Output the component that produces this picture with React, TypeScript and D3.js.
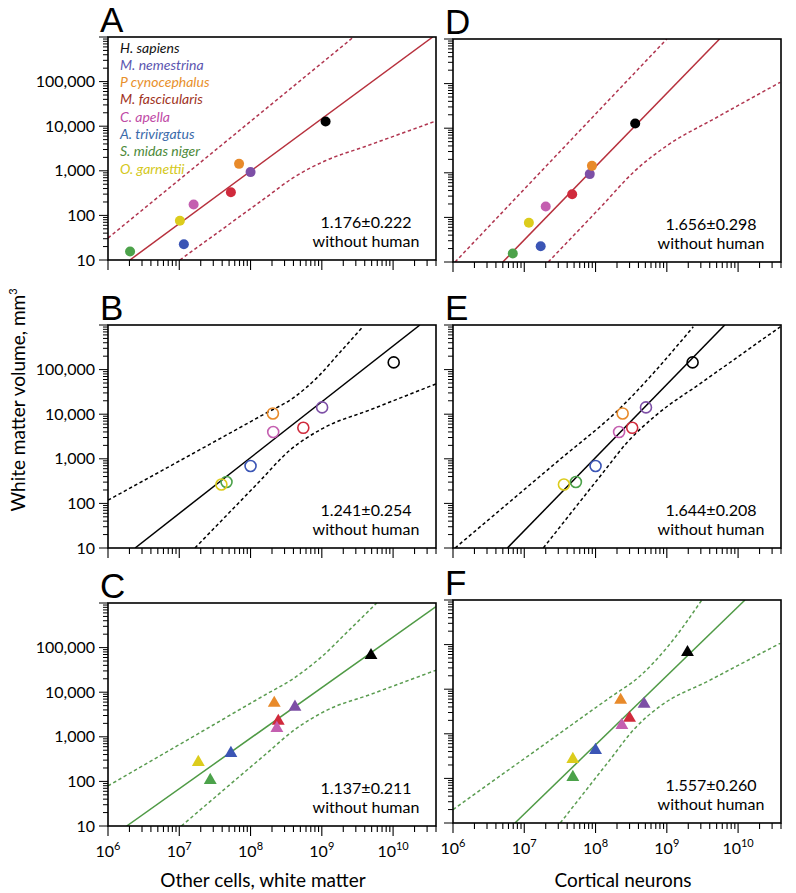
import React from "react";
import * as d3 from "d3";

// ---------- data ----------
const species = [
  "H. sapiens",
  "M. nemestrina",
  "P cynocephalus",
  "M. fascicularis",
  "C. apella",
  "A. trivirgatus",
  "S. midas niger",
  "O. garnettii",
];
const markerColors = ["#000000", "#7d4fa6", "#e88a2a", "#d02a3c", "#c45fb0", "#3b55b5", "#4ca24a", "#dccc1c"];
const legendColors = ["#111111", "#5c56b0", "#e8902c", "#a0321c", "#c04aa6", "#3a6aaa", "#4d8a3a", "#d4c820"];

// white matter volume (mm3) per species, one list per row
const volumeRow1 = [12700, 935, 1430, 330, 175, 22.5, 15.5, 76];
const volumeRow2 = [145000, 14200, 10400, 4950, 3980, 690, 302, 266];
const volumeRow3 = [67000, 4650, 5700, 2250, 1560, 428, 106, 269];

// x values per panel
const otherCellsA = [1.13e9, 1.0e8, 6.9e7, 5.3e7, 1.59e7, 1.16e7, 2.04e6, 1.02e7];
const otherCellsB = [1.02e10, 1.01e9, 2.06e8, 5.5e8, 2.08e8, 1.0e8, 4.6e7, 3.9e7];
const otherCellsC = [4.9e9, 4.2e8, 2.15e8, 2.45e8, 2.34e8, 5.3e7, 2.72e7, 1.85e7];
const neuronsD = [3.6e8, 8.3e7, 8.9e7, 4.7e7, 2.0e7, 1.7e7, 6.9e6, 1.16e7];
const neuronsE = [2.3e9, 5.1e8, 2.4e8, 3.27e8, 2.14e8, 1.0e8, 5.3e7, 3.6e7];
const neuronsF = [1.95e9, 4.8e8, 2.25e8, 3.0e8, 2.34e8, 1.0e8, 4.8e7, 4.8e7];

// regression lines
const fitA: [number, number][] = [[2.03e6, 10], [3.6e10, 1e6]];
const fitB: [number, number][] = [[2.4e6, 10], [2.38e10, 1e6]];
const fitC: [number, number][] = [[1.83e6, 10], [4.0e10, 8.3e5]];
const fitD: [number, number][] = [[5.0e6, 10], [5.5e9, 1e6]];
const fitE: [number, number][] = [[5.8e6, 10], [6.5e9, 1e6]];
const fitF: [number, number][] = [[7.4e6, 10], [1.25e10, 1e6]];

// confidence bands
const upperA: [number, number][] = [[1.0e6, 31], [2.75e9, 9.8e5]];
const lowerA: [number, number][] = [[1.02e7, 10], [1.58e8, 240], [3.98e8, 700], [1.12e9, 1680], [3.98e9, 3470], [3.9e10, 12900]];
const upperB: [number, number][] = [[1.0e6, 118], [1.58e8, 10200], [3.98e8, 23200], [8.9e8, 70000], [1.78e9, 2.4e5], [3.8e9, 9.3e5]];
const lowerB: [number, number][] = [[1.66e7, 10], [1.26e8, 282], [3.55e8, 1550], [1.0e9, 4680], [5.0e9, 12900], [4.3e10, 50000]];
const upperC: [number, number][] = [[1.0e6, 79], [1.58e8, 8600], [3.98e8, 20200], [1.0e9, 63000], [2.5e9, 2.6e5], [5.9e9, 1e6]];
const lowerC: [number, number][] = [[1.07e7, 10], [1.58e8, 390], [4.17e8, 1445], [1.12e9, 3800], [5.0e9, 9100], [4.1e10, 31600]];
const upperD: [number, number][] = [[1.07e6, 10], [1.0e9, 1e6]];
const lowerD: [number, number][] = [[2.17e7, 10], [1.26e8, 190], [3.55e8, 1100], [1.0e9, 4040], [5.0e9, 17400], [3.9e10, 1.07e5]];
const upperE: [number, number][] = [[1.07e6, 10], [3.16e7, 966], [1.98e8, 11500], [2.35e9, 9.1e5]];
const lowerE: [number, number][] = [[1.85e7, 10], [1.26e8, 480], [2.82e8, 2400], [7.1e8, 9550], [3.16e9, 52500], [3.9e10, 9.1e5]];
const upperF: [number, number][] = [[1.0e6, 20], [1.58e8, 6450], [4.17e8, 19500], [1.0e9, 85000], [3.1e9, 1e6]];
const lowerF: [number, number][] = [[3.2e7, 10], [1.58e8, 257], [3.55e8, 1320], [7.9e8, 4070], [3.98e9, 15800], [3.9e10, 1.07e5]];

const slopeLabels = ["1.176±0.222", "1.241±0.254", "1.137±0.211", "1.656±0.298", "1.644±0.208", "1.557±0.260"];
const panelLetters = ["A", "B", "C", "D", "E", "F"];
const xTitles = ["Other cells, white matter", "Cortical neurons"];
const yTitle = "White matter volume, mm";
const xDomain = [1e6, 4e10];
const yDomain = [10, 1e6];

// ---------- layout ----------
const FONT = "Lato, 'Open Sans', sans-serif";
const RED = "#b7313d";
const RED_D = "#b0354f";
const GREEN = "#4f9a45";
const GREEN_D = "#5a9c50";

type Pt = [number, number];
interface PanelCfg {
  letter: string;
  xs: number[];
  ys: number[];
  fit: Pt[];
  upper: Pt[];
  lower: Pt[];
  slope: string;
  marker: "dot" | "ring" | "tri";
  lineColor: string;
  bandColor: string;
  left: number;
  right: number;
  top: number;
  bottom: number;
  yLabels: boolean;
  xLabels: boolean;
  legend: boolean;
}

const cols = [[108, 436], [453, 781]];
const rowsL = [[37, 260], [325, 548], [603, 826]];
const rowsR = [[39, 262], [325, 548], [600, 823]];

const panels: PanelCfg[] = [
  { letter: panelLetters[0], xs: otherCellsA, ys: volumeRow1, fit: fitA, upper: upperA, lower: lowerA, slope: slopeLabels[0], marker: "dot", lineColor: RED, bandColor: RED_D, left: cols[0][0], right: cols[0][1], top: rowsL[0][0], bottom: rowsL[0][1], yLabels: true, xLabels: false, legend: true },
  { letter: panelLetters[1], xs: otherCellsB, ys: volumeRow2, fit: fitB, upper: upperB, lower: lowerB, slope: slopeLabels[1], marker: "ring", lineColor: "#000", bandColor: "#000", left: cols[0][0], right: cols[0][1], top: rowsL[1][0], bottom: rowsL[1][1], yLabels: true, xLabels: false, legend: false },
  { letter: panelLetters[2], xs: otherCellsC, ys: volumeRow3, fit: fitC, upper: upperC, lower: lowerC, slope: slopeLabels[2], marker: "tri", lineColor: GREEN, bandColor: GREEN_D, left: cols[0][0], right: cols[0][1], top: rowsL[2][0], bottom: rowsL[2][1], yLabels: true, xLabels: true, legend: false },
  { letter: panelLetters[3], xs: neuronsD, ys: volumeRow1, fit: fitD, upper: upperD, lower: lowerD, slope: slopeLabels[3], marker: "dot", lineColor: RED, bandColor: RED_D, left: cols[1][0], right: cols[1][1], top: rowsR[0][0], bottom: rowsR[0][1], yLabels: false, xLabels: false, legend: false },
  { letter: panelLetters[4], xs: neuronsE, ys: volumeRow2, fit: fitE, upper: upperE, lower: lowerE, slope: slopeLabels[4], marker: "ring", lineColor: "#000", bandColor: "#000", left: cols[1][0], right: cols[1][1], top: rowsR[1][0], bottom: rowsR[1][1], yLabels: false, xLabels: false, legend: false },
  { letter: panelLetters[5], xs: neuronsF, ys: volumeRow3, fit: fitF, upper: upperF, lower: lowerF, slope: slopeLabels[5], marker: "tri", lineColor: GREEN, bandColor: GREEN_D, left: cols[1][0], right: cols[1][1], top: rowsR[2][0], bottom: rowsR[2][1], yLabels: false, xLabels: true, legend: false },
];

function isPow10(v: number) {
  const l = Math.log10(v);
  return Math.abs(l - Math.round(l)) < 1e-6;
}

function Panel({ p, idx }: { p: PanelCfg; idx: number }) {
  const x = d3.scaleLog().domain(xDomain).range([p.left, p.right]);
  const y = d3.scaleLog().domain(yDomain).range([p.bottom, p.top]);
  const straight = d3.line<Pt>().x((d) => x(d[0])).y((d) => y(d[1]));
  const smooth = d3.line<Pt>().x((d) => x(d[0])).y((d) => y(d[1])).curve(d3.curveMonotoneX);
  const clipId = `clip-${p.letter}`;
  const xt = x.ticks();
  const yt = y.ticks();
  const tri = d3.symbol(d3.symbolTriangle, 72)() as string;
  const cx = (p.left + p.right) / 2;

  return (
    <g>
      <defs>
        <clipPath id={clipId}>
          <rect x={p.left} y={p.top} width={p.right - p.left} height={p.bottom - p.top} />
        </clipPath>
      </defs>
      <text x={p.left - 8} y={p.top - 5} fontFamily="'Liberation Sans', Arial, sans-serif" fontSize={35} fill="#000">
        {p.letter}
      </text>

      <g clipPath={`url(#${clipId})`}>
        <path d={smooth(p.upper) || ""} fill="none" stroke={p.bandColor} strokeWidth={1.5} strokeDasharray="3.4,2.6" />
        <path d={smooth(p.lower) || ""} fill="none" stroke={p.bandColor} strokeWidth={1.5} strokeDasharray="3.4,2.6" />
        <path d={straight(p.fit) || ""} fill="none" stroke={p.lineColor} strokeWidth={1.5} />
      </g>

      {/* frame */}
      <rect x={p.left} y={p.top} width={p.right - p.left} height={p.bottom - p.top} fill="none" stroke="#000" strokeWidth={1.6} />

      {/* y ticks */}
      {yt.map((v, i) => {
        const major = isPow10(v);
        return <line key={"y" + i} x1={p.left} x2={p.left - (major ? 9 : 5)} y1={y(v)} y2={y(v)} stroke="#000" strokeWidth={1} />;
      })}
      {p.yLabels &&
        yt.filter((v) => isPow10(v) && v < 1e6).map((v, i) => (
          <text key={"yl" + i} x={p.left - 13} y={y(v) + 5.5} textAnchor="end" fontFamily={FONT} fontSize={16} fill="#000">
            {d3.format(",")(v)}
          </text>
        ))}

      {/* x ticks */}
      {xt.map((v, i) => {
        const major = isPow10(v);
        return <line key={"x" + i} x1={x(v)} x2={x(v)} y1={p.bottom} y2={p.bottom + (major ? 10 : 6)} stroke="#000" strokeWidth={1.1} />;
      })}
      {p.xLabels &&
        xt.filter((v) => isPow10(v)).map((v, i) => (
          <text key={"xl" + i} x={x(v)} y={p.bottom + 31} textAnchor="middle" fontFamily={FONT} fontSize={16} fill="#000">
            10
            <tspan dy={-7} fontSize={11}>
              {Math.round(Math.log10(v))}
            </tspan>
          </text>
        ))}

      {/* markers */}
      {p.xs.map((xv, i) => {
        const px = x(xv);
        const py = y(p.ys[i]);
        const c = markerColors[i];
        if (p.marker === "dot") return <circle key={"m" + i} cx={px} cy={py} r={5} fill={c} />;
        if (p.marker === "ring") return <circle key={"m" + i} cx={px} cy={py} r={5.5} fill="none" stroke={c} strokeWidth={1.6} />;
        return <path key={"m" + i} d={tri} transform={`translate(${px},${py})`} fill={c} />;
      })}

      {/* slope annotation */}
      <text x={p.right - 70} y={p.bottom - 32} textAnchor="middle" fontFamily={FONT} fontSize={16} fill="#000">
        {p.slope}
      </text>
      <text x={p.right - 70} y={p.bottom - 13} textAnchor="middle" fontFamily={FONT} fontSize={16} fill="#000">
        without human
      </text>

      {p.legend &&
        species.map((s, i) => (
          <text key={"lg" + i} x={p.left + 12} y={p.top + 15.5 + i * 17.3} fontFamily={FONT} fontStyle="italic" fontSize={14} fill={legendColors[i]}>
            {s}
          </text>
        ))}

      {p.xLabels && (
        <text x={cx + (idx < 3 ? -9 : 6)} y={887} textAnchor="middle" fontFamily={FONT} fontSize={19} fill="#000">
          {xTitles[idx < 3 ? 0 : 1]}
        </text>
      )}
    </g>
  );
}

export default function App() {
  return (
    <svg width={796} height={893} style={{ position: "absolute", left: 0, top: 0, display: "block", background: "#fff" }}>
      <rect x={0} y={0} width={796} height={893} fill="#fff" />
      {panels.map((p, i) => (
        <Panel key={p.letter} p={p} idx={i} />
      ))}
      <text transform="translate(25,400) rotate(-90)" textAnchor="middle" fontFamily={FONT} fontSize={19} fill="#000">
        {yTitle}
        <tspan dy={-8} fontSize={11}>3</tspan>
      </text>
    </svg>
  );
}
